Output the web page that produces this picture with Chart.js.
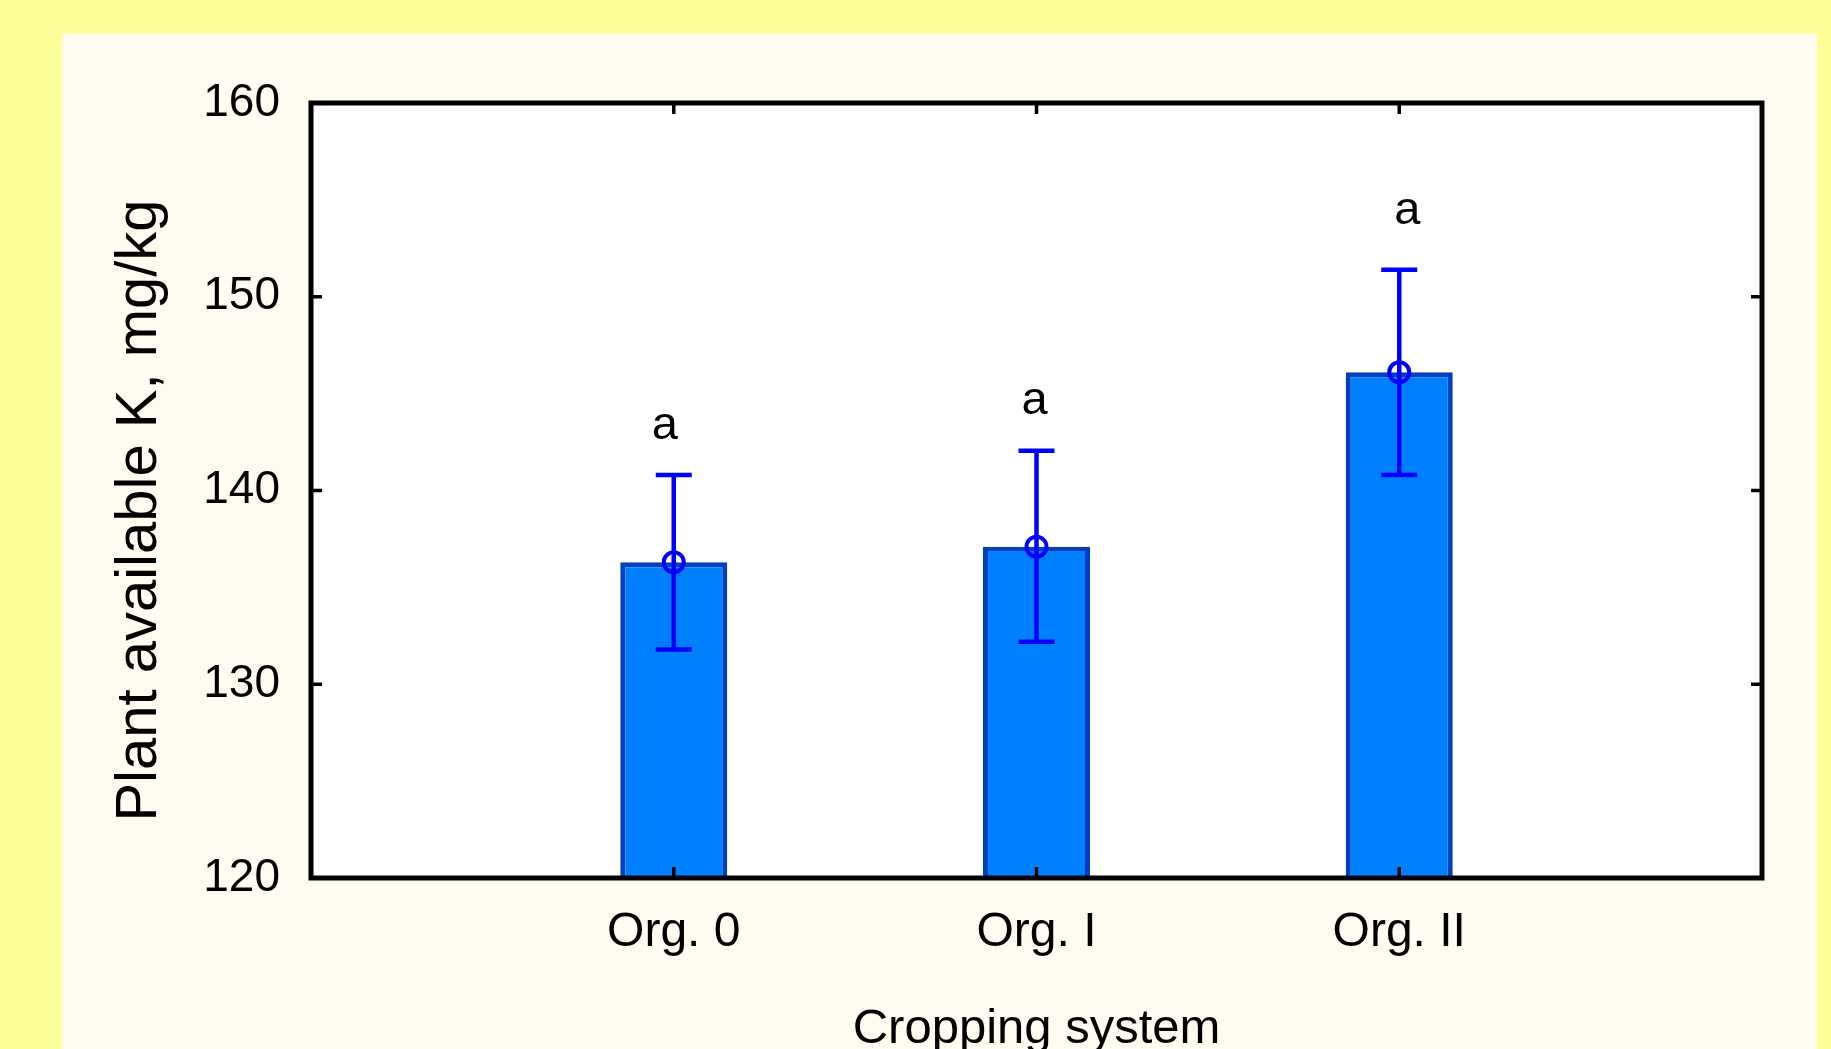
<!DOCTYPE html>
<html>
<head>
<meta charset="utf-8">
<script src="https://cdn.jsdelivr.net/npm/chart.js@4"></script>
<style>
  html, body { margin: 0; padding: 0; overflow: hidden; background: #FFFF99; }
  #wrap { width: 1831px; height: 1080px; }
</style>
</head>
<body>
<div id="wrap"><canvas id="kChart"></canvas></div>
<script>
const categories = ["Org. 0", "Org. I", "Org. II"];
const means = [136.3, 137.1, 146.1];
const errLow = [131.8, 132.2, 140.8];
const errHigh = [140.8, 142.05, 151.4];
const letters = ["a", "a", "a"];
const letterAt = [142.65, 143.95, 153.75];
const yTicks = [120, 130, 140, 150, 160];
const yTitle = "Plant available K, mg/kg";

// pad the category axis with empty slots so bars sit at 1/4, 2/4, 3/4
const labels = ["", ...categories, ""];
const pad = arr => [null, ...arr, null];

const FONT = "'Liberation Sans', Arial, sans-serif";

const decor = {
  id: "decor",
  beforeDraw(chart) {
    const { ctx, chartArea: a } = chart;
    ctx.save();
    ctx.fillStyle = "#FFFF99";
    ctx.fillRect(0, 0, chart.width, chart.height);
    ctx.fillStyle = "#FFFBF0";
    ctx.fillRect(62, 34, 1755, chart.height);
    ctx.fillStyle = "#FFFFFF";
    ctx.fillRect(a.left, a.top, a.right - a.left, a.bottom - a.top);
    // y axis title, set a little below the axis middle as in the original
    ctx.translate(140, (a.top + a.bottom) / 2 + 20);
    ctx.rotate(-Math.PI / 2);
    ctx.fillStyle = "#000";
    ctx.font = "58px " + FONT;
    ctx.textAlign = "center";
    ctx.textBaseline = "middle";
    ctx.fillText(yTitle, 0, 0);
    ctx.restore();
  },
  afterDatasetsDraw(chart) {
    const { ctx } = chart;
    const x = chart.scales.x, y = chart.scales.y;
    ctx.save();
    ctx.strokeStyle = "#0000FF";
    ctx.lineWidth = 4.5;
    categories.forEach((c, i) => {
      const px = x.getPixelForValue(i + 1);
      const lo = y.getPixelForValue(errLow[i]);
      const hi = y.getPixelForValue(errHigh[i]);
      ctx.beginPath();
      ctx.moveTo(px, lo); ctx.lineTo(px, hi);
      ctx.moveTo(px - 18, lo); ctx.lineTo(px + 18, lo);
      ctx.moveTo(px - 18, hi); ctx.lineTo(px + 18, hi);
      ctx.stroke();
    });
    ctx.fillStyle = "#000";
    ctx.font = "47px " + FONT;
    ctx.textAlign = "center";
    ctx.textBaseline = "alphabetic";
    const nudge = [-9, -2, 8];
    letters.forEach((t, i) => {
      ctx.fillText(t, x.getPixelForValue(i + 1) + nudge[i], y.getPixelForValue(letterAt[i]));
    });
    ctx.restore();
  },
  afterDraw(chart) {
    const { ctx, chartArea: a } = chart;
    const x = chart.scales.x, y = chart.scales.y;
    ctx.save();
    ctx.strokeStyle = "#000";
    ctx.lineWidth = 3.5;
    ctx.beginPath();
    yTicks.forEach(v => {
      const py = y.getPixelForValue(v);
      ctx.moveTo(a.left, py); ctx.lineTo(a.left + 11, py);
      ctx.moveTo(a.right, py); ctx.lineTo(a.right - 11, py);
    });
    categories.forEach((c, i) => {
      const px = x.getPixelForValue(i + 1);
      ctx.moveTo(px, a.top); ctx.lineTo(px, a.top + 11);
      ctx.moveTo(px, a.bottom); ctx.lineTo(px, a.bottom - 11);
    });
    ctx.stroke();
    ctx.lineWidth = 5;
    ctx.strokeRect(a.left, a.top, a.right - a.left, a.bottom - a.top);
    ctx.restore();
  }
};

new Chart(document.getElementById("kChart"), {
  type: "bar",
  data: {
    labels,
    datasets: [
      {
        type: "line",
        data: pad(means),
        showLine: false,
        pointRadius: 10,
        pointHoverRadius: 10,
        pointBorderWidth: 4,
        pointBorderColor: "#0000FF",
        pointBackgroundColor: "rgba(0,0,0,0)",
        order: 0,
      },
      {
        data: pad(means),
        backgroundColor: "#0080FF",
        borderColor: "#0040C0",
        borderWidth: 5,
        borderSkipped: false,
        barPercentage: 0.295,
        categoryPercentage: 1,
        order: 1,
      },
    ],
  },
  options: {
    responsive: true,
    maintainAspectRatio: false,
    animation: false,
    layout: { padding: { left: 0, top: 103, right: 69, bottom: 0 } },
    plugins: {
      legend: { display: false },
      tooltip: { enabled: false },
    },
    scales: {
      x: {
        offset: false,
        grid: { display: false, drawTicks: false },
        border: { display: false },
        ticks: { color: "#000", font: { family: FONT, size: 48 }, padding: 26, autoSkip: false, maxRotation: 0 },
        title: {
          display: true,
          text: "Cropping system",
          color: "#000",
          font: { family: FONT, size: 49 },
          padding: { top: 0, bottom: 21 },
        },
        afterFit: s => { s.height = 202; },
      },
      y: {
        min: 120,
        max: 160,
        grid: { display: false, drawTicks: false },
        border: { display: false },
        ticks: { stepSize: 10, color: "#000", font: { family: FONT, size: 46 }, padding: 31 },
        afterFit: s => { s.width = 311; },
      },
    },
  },
  plugins: [decor],
});
</script>
</body>
</html>
